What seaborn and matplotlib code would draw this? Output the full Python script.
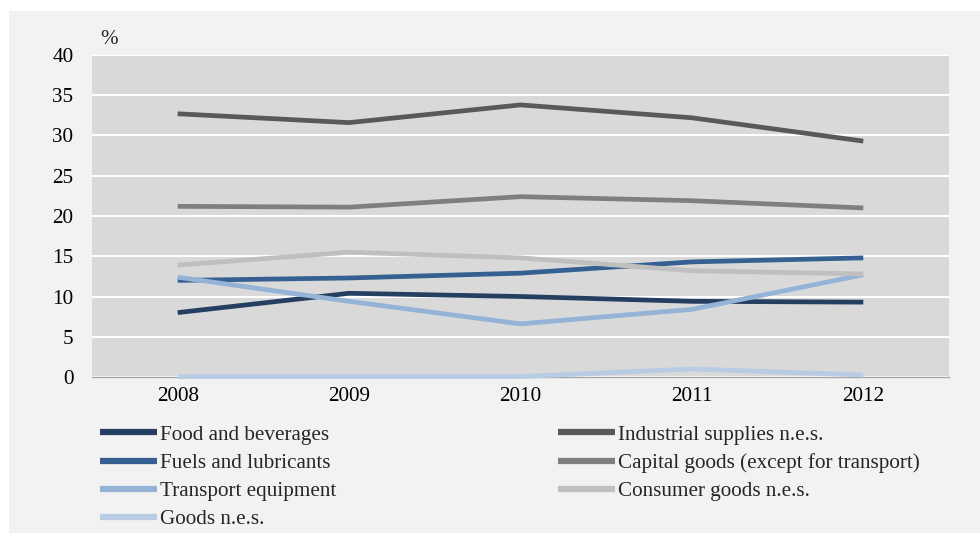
import matplotlib
matplotlib.use("Agg")
import matplotlib.pyplot as plt
import seaborn as sns
import pandas as pd
from matplotlib.patches import Rectangle
from matplotlib.lines import Line2D

years = ["2008", "2009", "2010", "2011", "2012"]
food = [8.0, 10.4, 10.0, 9.4, 9.3]
industrial = [32.7, 31.6, 33.8, 32.2, 29.3]
fuels = [12.0, 12.3, 12.9, 14.3, 14.8]
capital = [21.2, 21.1, 22.4, 21.9, 21.0]
transport = [12.4, 9.4, 6.6, 8.4, 12.7]
consumer = [13.9, 15.5, 14.8, 13.2, 12.8]
goods = [0.05, 0.05, 0.05, 1.0, 0.25]

series_names = ["Food and beverages", "Industrial supplies n.e.s.", "Fuels and lubricants",
                "Capital goods (except for transport)", "Transport equipment",
                "Consumer goods n.e.s.", "Goods n.e.s."]
series_values = [food, industrial, fuels, capital, transport, consumer, goods]
colors = ["#243f60", "#595959", "#366092", "#7f7f7f", "#95b3d7", "#bfbfbf", "#b8cce4"]

rows = []
for name, vals in zip(series_names, series_values):
    for i, v in enumerate(vals):
        rows.append({"series": name, "pos": i, "value": v})
df = pd.DataFrame(rows)

sns.set_theme(style="white")
plt.rcParams["font.family"] = ["Liberation Serif", "DejaVu Serif"]
FS = 15.2

fig = plt.figure(figsize=(9.8, 5.33), dpi=100)
fig.patch.set_facecolor("white")
bg = Rectangle((9 / 980, 0), 1 - 9 / 980, 1 - 11 / 533, transform=fig.transFigure,
               facecolor="#f2f2f2", edgecolor="none", zorder=-10)
fig.add_artist(bg)
ax = fig.add_axes([92 / 980, (533 - 377) / 533, (949 - 92) / 980, (377 - 55) / 533])
ax.set_facecolor("#d9d9d9")

sns.lineplot(data=df, x="pos", y="value", hue="series", hue_order=series_names,
             palette=colors, linewidth=3.4, ax=ax, legend=False, sort=False)
for ln in ax.lines:
    ln.set_solid_capstyle("butt")
    ln.set_solid_joinstyle("miter")
    ln.set_clip_on(False)
    ln.set_zorder(3)

ax.set_xlim(-0.5, 4.5)
ax.set_ylim(0, 40)
ax.set_yticks(range(0, 41, 5))
ax.set_xticks(range(len(years)))
ax.set_xticklabels(years)
ax.set_xlabel("")
ax.set_ylabel("")
ax.yaxis.grid(True, color="white", linewidth=1.5)
ax.set_axisbelow(True)
ax.tick_params(axis="y", length=0, pad=13.5, labelsize=FS, colors="#000000")
ax.tick_params(axis="x", length=0, pad=7, labelsize=FS, colors="#000000")
for s in ["top", "right", "left"]:
    ax.spines[s].set_visible(False)
ax.spines["bottom"].set_color("#a6a6a6")
ax.spines["bottom"].set_linewidth(1.0)
ax.spines["bottom"].set_zorder(2)

fig.text(100 / 980, 1 - 40 / 533, "%", fontsize=FS, ha="left", va="center")

name_to_color = dict(zip(series_names, colors))
col1 = ["Food and beverages", "Fuels and lubricants", "Transport equipment", "Goods n.e.s."]
col2 = ["Industrial supplies n.e.s.", "Capital goods (except for transport)", "Consumer goods n.e.s."]
for names, xleft in [(col1, 100), (col2, 558)]:
    handles = [Line2D([0], [0], color=name_to_color[n], linewidth=4.5, solid_capstyle="butt")
               for n in names]
    fig.legend(handles, names, loc="upper left",
               bbox_to_anchor=(xleft / 980, 1 - 425 / 533), frameon=False,
               fontsize=FS, handlelength=2.7, handletextpad=0.15,
               labelspacing=0.4, borderpad=0, borderaxespad=0)

fig.savefig("out.png", dpi=100, facecolor=fig.get_facecolor())
